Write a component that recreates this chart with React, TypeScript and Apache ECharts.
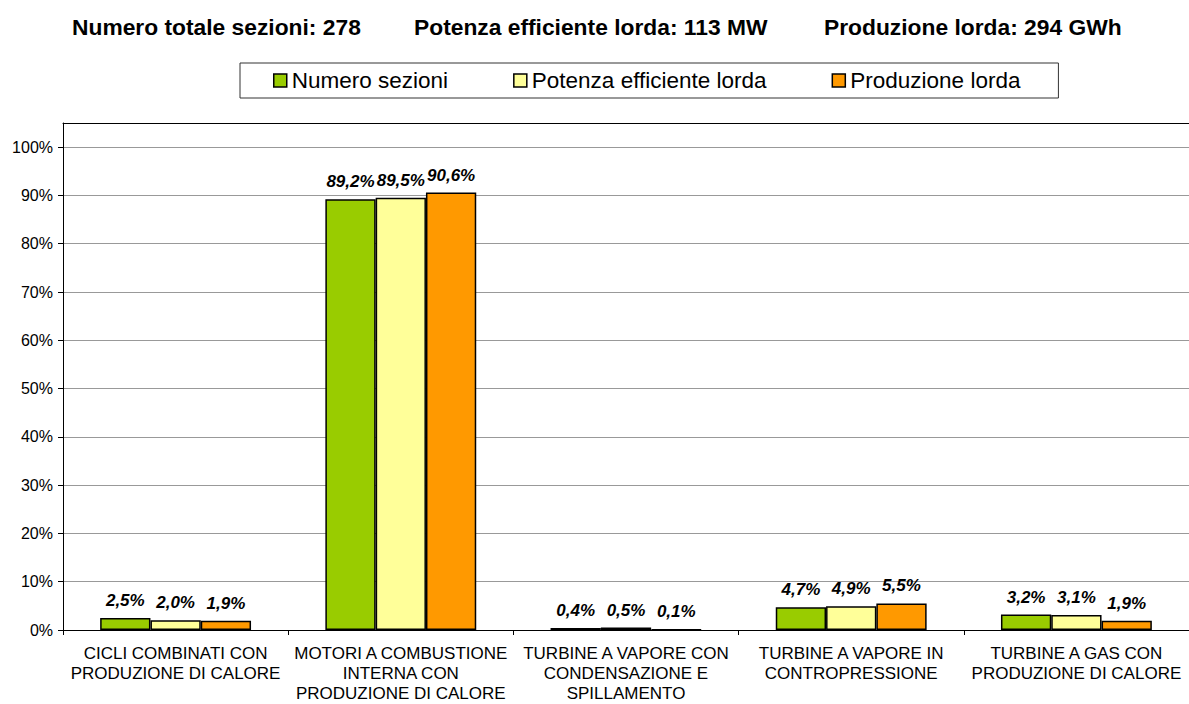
import React, { useEffect, useRef } from "react";
import * as echarts from "echarts";

const categories = [
  "CICLI COMBINATI CON\nPRODUZIONE DI CALORE",
  "MOTORI A COMBUSTIONE\nINTERNA CON\nPRODUZIONE DI CALORE",
  "TURBINE A VAPORE CON\nCONDENSAZIONE E\nSPILLAMENTO",
  "TURBINE A VAPORE IN\nCONTROPRESSIONE",
  "TURBINE A GAS CON\nPRODUZIONE DI CALORE",
];
const seriesNames = ["Numero sezioni", "Potenza efficiente lorda", "Produzione lorda"];
const numeroSezioni = [2.5, 89.2, 0.4, 4.7, 3.2];
const potenzaEfficiente = [2.0, 89.5, 0.5, 4.9, 3.1];
const produzioneLorda = [1.9, 90.6, 0.1, 5.5, 1.9];
const headerTexts = [
  "Numero totale sezioni: 278",
  "Potenza efficiente lorda: 113 MW",
  "Produzione lorda: 294 GWh",
];
const headerX = [72, 414, 824];
const colors = ["#99CC00", "#FFFF99", "#FF9900"];

const FONT = "'Liberation Sans', Arial, sans-serif";

export default function App() {
  const ref = useRef<HTMLDivElement>(null);
  useEffect(() => {
    if (!ref.current) return;
    const chart = echarts.init(ref.current, null, { renderer: "svg" });
    const data = [numeroSezioni, potenzaEfficiente, produzioneLorda];
    chart.setOption({
      animation: false,
      backgroundColor: "#ffffff",
      textStyle: { fontFamily: FONT },
      graphic: headerTexts.map((t, i) => ({
        type: "text",
        x: headerX[i],
        y: 27,
        style: {
          text: t,
          fontFamily: FONT,
          fontSize: 22.8,
          fontWeight: "bold",
          fill: "#000",
          textVerticalAlign: "middle",
        },
      })),
      legend: {
        left: 240,
        top: 63,
        padding: [6, 38, 6, 33],
        itemGap: 65,
        itemWidth: 13,
        itemHeight: 13,
        icon: "rect",
        borderColor: "#333",
        borderWidth: 1,
        data: seriesNames,
        itemStyle: { borderColor: "#000", borderWidth: 1.5 },
        textStyle: { fontFamily: FONT, fontSize: 22.5, color: "#000", lineHeight: 22 },
      },
      grid: {
        left: 63,
        right: 0,
        top: 123,
        bottom: 74,
        containLabel: false,
        outerBoundsMode: "none",
      },
      xAxis: [
        {
          type: "category",
          data: categories,
          axisLine: { lineStyle: { color: "#000", width: 1 } },
          axisTick: { show: true, length: 5, lineStyle: { color: "#000" } },
          axisLabel: {
            interval: 0,
            fontFamily: FONT,
            fontSize: 17,
            lineHeight: 20,
            color: "#000",
            margin: 13,
          },
        },
        {
          type: "category",
          position: "top",
          data: categories,
          axisLine: { lineStyle: { color: "#000", width: 1 } },
          axisTick: { show: false },
          axisLabel: { show: false },
        },
      ],
      yAxis: {
        type: "value",
        min: 0,
        max: 105,
        interval: 10,
        axisLine: { show: true, lineStyle: { color: "#000" } },
        axisTick: { show: true, length: 5, lineStyle: { color: "#000" } },
        axisLabel: {
          showMaxLabel: false,
          fontFamily: FONT,
          fontSize: 16,
          color: "#000",
          margin: 10,
          formatter: (v: number) => (v > 100 ? "" : v + "%"),
        },
        splitLine: { lineStyle: { color: "#999", width: 1 } },
      },
      series: seriesNames.map((name, i) => ({
        name,
        type: "bar",
        data: data[i],
        barGap: "0%",
        barCategoryGap: "33%",
        itemStyle: { color: colors[i], borderColor: "#000", borderWidth: 1.5 },
        label: {
          show: true,
          position: "top",
          distance: 9,
          fontFamily: FONT,
          fontSize: 17,
          fontWeight: "bold",
          fontStyle: "italic",
          color: "#000",
          formatter: (p: any) => p.value.toFixed(1).replace(".", ",") + "%",
        },
      })),
    });
    return () => chart.dispose();
  }, []);
  return (
    <div
      ref={ref}
      style={{ position: "absolute", left: 0, top: 0, width: 1189, height: 704 }}
    />
  );
}
